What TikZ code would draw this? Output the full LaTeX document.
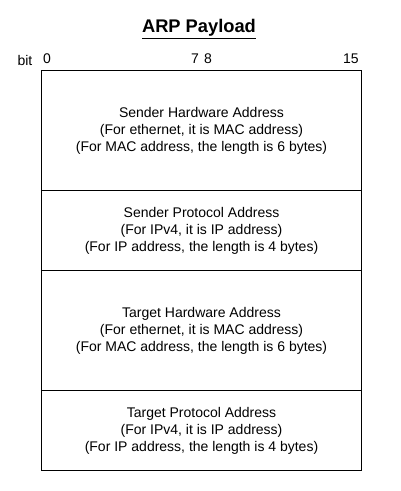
\documentclass[tikz,border=0pt]{standalone}
\usepackage{fontspec}
\setmainfont{Liberation Sans}
\begin{document}
\begin{tikzpicture}[x=1pt,y=-1pt,
  field/.style={draw=black,line width=1pt,minimum width=320pt,anchor=north west,inner sep=0pt,font=\fontsize{14}{17}\selectfont,align=center},
  lbl/.style={font=\fontsize{14}{16}\selectfont,inner sep=0pt}]
\useasboundingbox (0,0) rectangle (401,491);
\node[font=\bfseries\fontsize{18.3}{21}\selectfont,inner sep=0pt] (title) at (199,29) {\underline{ARP Payload}};
\node[lbl] (bit) at (25,60) {bit};
\node[lbl] (b0) at (47,59) {0};
\node[lbl] (b7) at (195,59) {7};
\node[lbl] (b8) at (208,59) {8};
\node[lbl] (b15) at (351,59) {15};
\node[field,minimum height=120pt] (sha) at (41,70) {Sender Hardware Address\\(For ethernet, it is MAC address)\\(For MAC address, the length is 6 bytes)};
\node[field,minimum height=80pt] (spa) at (41,190) {Sender Protocol Address\\(For IPv4, it is IP address)\\(For IP address, the length is 4 bytes)};
\node[field,minimum height=120pt] (tha) at (41,270) {Target Hardware Address\\(For ethernet, it is MAC address)\\(For MAC address, the length is 6 bytes)};
\node[field,minimum height=80pt] (tpa) at (41,390) {Target Protocol Address\\(For IPv4, it is IP address)\\(For IP address, the length is 4 bytes)};
\end{tikzpicture}
\end{document}
